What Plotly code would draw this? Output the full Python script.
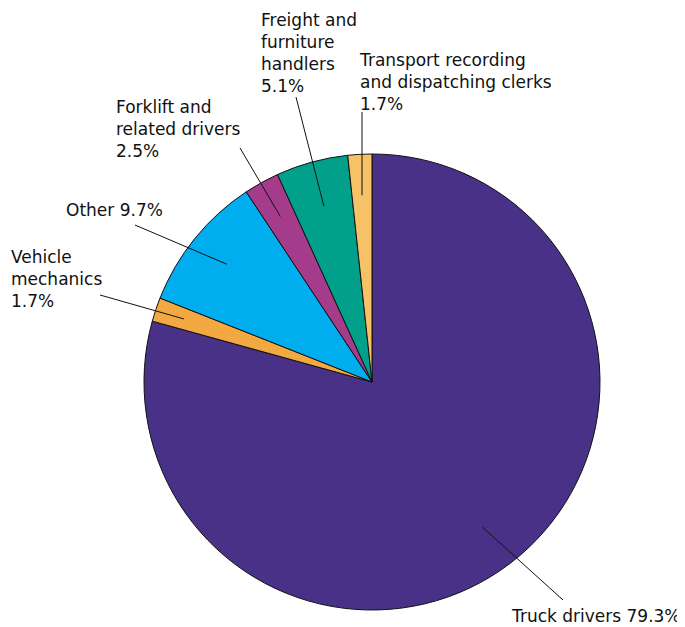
import math
import plotly.graph_objects as go

# ---- data ----
categories = ["Truck drivers", "Vehicle mechanics", "Other",
              "Forklift and related drivers", "Freight and furniture handlers",
              "Transport recording and dispatching clerks"]
shares = [79.3, 1.7, 9.7, 2.5, 5.1, 1.7]
label_texts = [
    "Truck drivers 79.3%",
    "Vehicle<br>mechanics<br>1.7%",
    "Other 9.7%",
    "Forklift and<br>related drivers<br>2.5%",
    "Freight and<br>furniture<br>handlers<br>5.1%",
    "Transport recording<br>and dispatching clerks<br>1.7%",
]
colors = ["#4a3188", "#f3a941", "#00adee", "#a53b8b", "#00a08b", "#f6c267"]

# ---- layout config (window pixels) ----
OFF = 8  # page body margin
W, H = 685 - OFF, 627 - OFF
CX, CY, R = 372, 382, 228
label_pos = [(510, 621), (10, 262), (65, 215), (115, 112), (260, 25), (358, 65)]  # x, first baseline
leader_end = [(563, 600), (100, 295), (135, 225), (240, 148), (296, 97), (362, 112)]
leader_frac = [0.80, 0.87, 0.82, 0.83, 0.80, 0.82]
FS = 17
FONT = dict(family="DejaVu Sans, sans-serif", size=FS, color="#111111")

def px(x, y):
    return (x - OFF) / W, 1 - (y - OFF) / H

fig = go.Figure(go.Pie(
    labels=categories, values=shares, sort=False, direction="clockwise",
    rotation=0, textinfo="none", hoverinfo="label+percent",
    marker=dict(colors=colors, line=dict(color="#111111", width=1)),
    domain=dict(x=[(CX - R - OFF) / W, (CX + R - OFF) / W],
                y=[1 - (CY + R - OFF) / H, 1 - (CY - R - OFF) / H]),
    showlegend=False,
))

total = sum(shares)
cum = 0
shapes, annotations = [], []
for i, v in enumerate(shares):
    theta = 2 * math.pi * (cum + v / 2) / total
    cum += v
    ix = CX + leader_frac[i] * R * math.sin(theta)
    iy = CY - leader_frac[i] * R * math.cos(theta)
    x0, y0 = px(ix, iy)
    x1, y1 = px(*leader_end[i])
    shapes.append(dict(type="line", xref="paper", yref="paper", x0=x0, y0=y0, x1=x1, y1=y1,
                       line=dict(color="#111111", width=1)))
    lx, ly = label_pos[i]
    bx, by = px(lx, ly - 0.95 * FS)
    annotations.append(dict(text=label_texts[i], x=bx, y=by, xref="paper", yref="paper",
                            xanchor="left", yanchor="top", align="left",
                            showarrow=False, font=FONT, borderpad=0))

fig.update_layout(width=W, height=H, margin=dict(l=0, r=0, t=0, b=0),
                  paper_bgcolor="white", plot_bgcolor="white",
                  shapes=shapes, annotations=annotations)
fig.write_html("out.html")
